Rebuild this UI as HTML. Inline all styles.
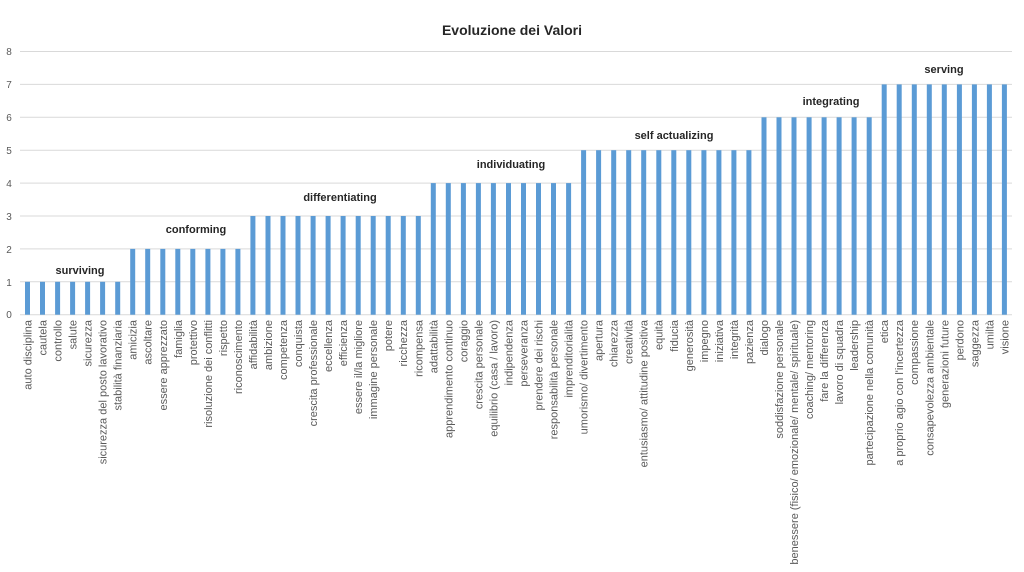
<!DOCTYPE html>
<html><head><meta charset="utf-8"><style>
html,body{margin:0;padding:0;background:#fff;}
svg{display:block;font-family:"Liberation Sans",sans-serif;}
.l{font-size:11px;fill:#595959;text-anchor:end;}
.g{font-size:11px;font-weight:bold;fill:#262626;text-anchor:middle;}
.t{font-size:10px;fill:#595959;text-anchor:middle;}
</style></head><body>
<svg width="1024" height="572" viewBox="0 0 1024 572">
<text x="512" y="35" style="font-size:14px;font-weight:bold;fill:#262626;text-anchor:middle">Evoluzione dei Valori</text>
<g stroke="#d9d9d9" stroke-width="1">
<line x1="20" x2="1012" y1="51.5" y2="51.5"/><line x1="20" x2="1012" y1="84.4" y2="84.4"/><line x1="20" x2="1012" y1="117.3" y2="117.3"/><line x1="20" x2="1012" y1="150.2" y2="150.2"/><line x1="20" x2="1012" y1="183.1" y2="183.1"/><line x1="20" x2="1012" y1="216" y2="216"/><line x1="20" x2="1012" y1="248.9" y2="248.9"/><line x1="20" x2="1012" y1="281.8" y2="281.8"/><line x1="20" x2="1012" y1="314.7" y2="314.7"/>
</g>
<g class="t">
<text x="9" y="55">8</text><text x="9" y="88">7</text><text x="9" y="121">6</text><text x="9" y="154">5</text><text x="9" y="187">4</text><text x="9" y="220">3</text><text x="9" y="253">2</text><text x="9" y="286">1</text><text x="9" y="318">0</text>
</g>
<g fill="#5b9bd5" id="bars"></g>
<g class="g">
<text x="80" y="274">surviving</text>
<text x="196" y="233">conforming</text>
<text x="340" y="201">differentiating</text>
<text x="511" y="168">individuating</text>
<text x="674" y="139">self actualizing</text>
<text x="831" y="105">integrating</text>
<text x="944" y="73">serving</text>
</g>
<g class="l">
<text transform="translate(31.5,320) rotate(-90)">auto disciplina</text>
<text transform="translate(46.5,320) rotate(-90)">cautela</text>
<text transform="translate(61.6,320) rotate(-90)">controllo</text>
<text transform="translate(76.6,320) rotate(-90)">salute</text>
<text transform="translate(91.6,320) rotate(-90)">sicurezza</text>
<text transform="translate(106.7,320) rotate(-90)">sicurezza del posto lavorativo</text>
<text transform="translate(121.7,320) rotate(-90)">stabilità finanziaria</text>
<text transform="translate(136.7,320) rotate(-90)">amicizia</text>
<text transform="translate(151.7,320) rotate(-90)">ascoltare</text>
<text transform="translate(166.8,320) rotate(-90)">essere apprezzato</text>
<text transform="translate(181.8,320) rotate(-90)">famiglia</text>
<text transform="translate(196.8,320) rotate(-90)">protettivo</text>
<text transform="translate(211.9,320) rotate(-90)">risoluzione dei conflitti</text>
<text transform="translate(226.9,320) rotate(-90)">rispetto</text>
<text transform="translate(241.9,320) rotate(-90)">riconoscimento</text>
<text transform="translate(256.9,320) rotate(-90)">affidabilità</text>
<text transform="translate(272,320) rotate(-90)">ambizione</text>
<text transform="translate(287,320) rotate(-90)">competenza</text>
<text transform="translate(302,320) rotate(-90)">conquista</text>
<text transform="translate(317.1,320) rotate(-90)">crescita professionale</text>
<text transform="translate(332.1,320) rotate(-90)">eccellenza</text>
<text transform="translate(347.1,320) rotate(-90)">efficienza</text>
<text transform="translate(362.2,320) rotate(-90)">essere il/la migliore</text>
<text transform="translate(377.2,320) rotate(-90)">immagine personale</text>
<text transform="translate(392.2,320) rotate(-90)">potere</text>
<text transform="translate(407.2,320) rotate(-90)">ricchezza</text>
<text transform="translate(422.3,320) rotate(-90)">ricompensa</text>
<text transform="translate(437.3,320) rotate(-90)">adattabilità</text>
<text transform="translate(452.3,320) rotate(-90)">apprendimento continuo</text>
<text transform="translate(467.4,320) rotate(-90)">coraggio</text>
<text transform="translate(482.4,320) rotate(-90)">crescita personale</text>
<text transform="translate(497.4,320) rotate(-90)">equilibrio (casa / lavoro)</text>
<text transform="translate(512.5,320) rotate(-90)">indipendenza</text>
<text transform="translate(527.5,320) rotate(-90)">perseveranza</text>
<text transform="translate(542.5,320) rotate(-90)">prendere dei rischi</text>
<text transform="translate(557.5,320) rotate(-90)">responsabilità personale</text>
<text transform="translate(572.6,320) rotate(-90)">imprenditorialità</text>
<text transform="translate(587.6,320) rotate(-90)">umorismo/ divertimento</text>
<text transform="translate(602.6,320) rotate(-90)">apertura</text>
<text transform="translate(617.7,320) rotate(-90)">chiarezza</text>
<text transform="translate(632.7,320) rotate(-90)">creatività</text>
<text transform="translate(647.7,320) rotate(-90)">entusiasmo/ attitudine positiva</text>
<text transform="translate(662.7,320) rotate(-90)">equità</text>
<text transform="translate(677.8,320) rotate(-90)">fiducia</text>
<text transform="translate(692.8,320) rotate(-90)">generosità</text>
<text transform="translate(707.8,320) rotate(-90)">impegno</text>
<text transform="translate(722.9,320) rotate(-90)">iniziativa</text>
<text transform="translate(737.9,320) rotate(-90)">integrità</text>
<text transform="translate(752.9,320) rotate(-90)">pazienza</text>
<text transform="translate(768,320) rotate(-90)">dialogo</text>
<text transform="translate(783,320) rotate(-90)">soddisfazione personale</text>
<text transform="translate(798,320) rotate(-90)">benessere (fisico/ emozionale/ mentale/ spirituale)</text>
<text transform="translate(813,320) rotate(-90)">coaching/ mentoring</text>
<text transform="translate(828.1,320) rotate(-90)">fare la differenza</text>
<text transform="translate(843.1,320) rotate(-90)">lavoro di squadra</text>
<text transform="translate(858.1,320) rotate(-90)">leadership</text>
<text transform="translate(873.2,320) rotate(-90)">partecipazione nella comunità</text>
<text transform="translate(888.2,320) rotate(-90)">etica</text>
<text transform="translate(903.2,320) rotate(-90)">a proprio agio con l'incertezza</text>
<text transform="translate(918.2,320) rotate(-90)">compassione</text>
<text transform="translate(933.3,320) rotate(-90)">consapevolezza ambientale</text>
<text transform="translate(948.3,320) rotate(-90)">generazioni future</text>
<text transform="translate(963.3,320) rotate(-90)">perdono</text>
<text transform="translate(978.4,320) rotate(-90)">saggezza</text>
<text transform="translate(993.4,320) rotate(-90)">umiltà</text>
<text transform="translate(1008.4,320) rotate(-90)">visione</text>
</g>
</svg>
<script>
var v=[1,1,1,1,1,1,1,2,2,2,2,2,2,2,2,3,3,3,3,3,3,3,3,3,3,3,3,4,4,4,4,4,4,4,4,4,4,5,5,5,5,5,5,5,5,5,5,5,5,6,6,6,6,6,6,6,6,7,7,7,7,7,7,7,7,7];
var g=document.getElementById('bars'),s='';
for(var i=0;i<v.length;i++){var cx=27.5+15.03*i,h=v[i]*32.9;
s+='<rect x="'+(cx-2.5).toFixed(1)+'" y="'+(314.7-h).toFixed(1)+'" width="5" height="'+h.toFixed(1)+'"/>';}
g.innerHTML=s;
</script>
</body></html>
